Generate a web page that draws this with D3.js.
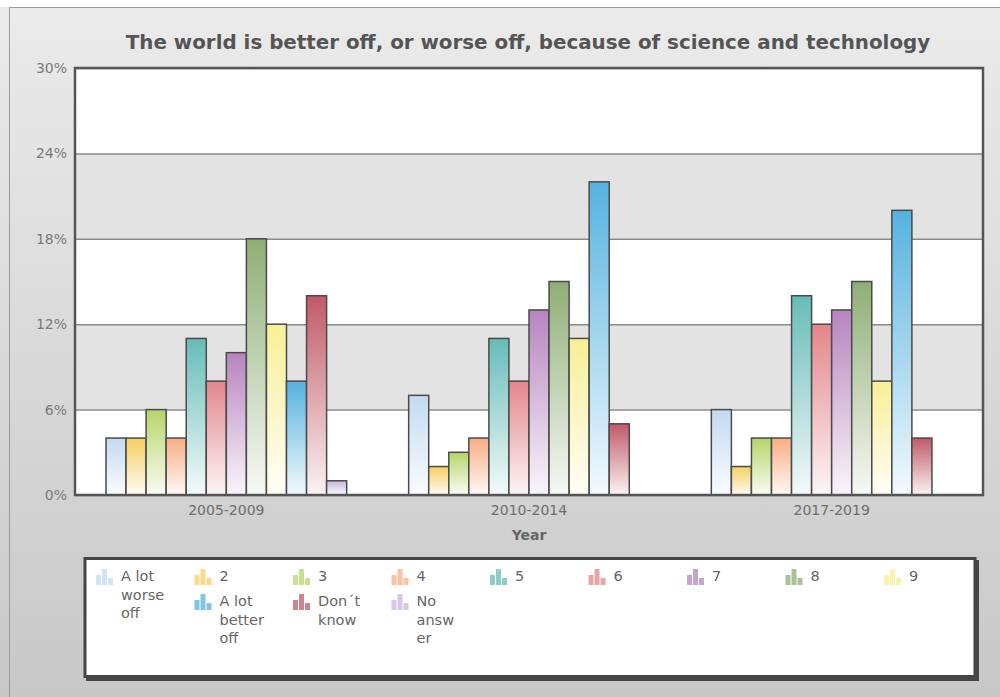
<!DOCTYPE html>
<html>
<head>
<meta charset="utf-8">
<script src="https://cdn.jsdelivr.net/npm/d3@7"></script>
<style>
  body { margin: 0; background: #fff; }
  svg { display: block; font-family: "DejaVu Sans", Verdana, sans-serif; }
</style>
</head>
<body>
<svg id="chart"></svg>
<script>
var years = ['2005-2009', '2010-2014', '2017-2019'];
var responses = ['A lot worse off', '2', '3', '4', '5', '6', '7', '8', '9',
  'A lot better off', 'Don´t know', 'No answer'];
var values2005 = [4, 4, 6, 4, 11, 8, 10, 18, 12, 8, 14, 1];
var values2010 = [7, 2, 3, 4, 11, 8, 13, 15, 11, 22, 5, 0];
var values2017 = [6, 2, 4, 4, 14, 12, 13, 15, 8, 20, 4, 0];
var yTicks = [0, 6, 12, 18, 24, 30];
var colors = ['#c3daf1', '#f5cf60', '#b5d66a', '#f8ae84', '#66bcb8', '#e3858b',
  '#b784bf', '#8fae76', '#f8ef96', '#56b2e0', '#c05a66', '#c8b6dc'];

document.addEventListener('DOMContentLoaded', () => {
  var W = 1000, H = 697;
  var plot = { left: 75, right: 983, top: 68, bottom: 495 };

  var svg = d3.select('#chart').attr('width', W).attr('height', H);
  var defs = svg.append('defs');

  var bg = defs.append('linearGradient').attr('id', 'bg')
    .attr('x1', 0).attr('y1', 0).attr('x2', 0).attr('y2', 1);
  bg.append('stop').attr('offset', '0%').attr('stop-color', '#ebebeb');
  bg.append('stop').attr('offset', '100%').attr('stop-color', '#c8c8c8');

  colors.forEach((c, i) => {
    var g = defs.append('linearGradient').attr('id', 'bar' + i)
      .attr('x1', 0).attr('y1', 0).attr('x2', 0).attr('y2', 1);
    g.append('stop').attr('offset', '0%').attr('stop-color', c);
    g.append('stop').attr('offset', '100%').attr('stop-color', d3.interpolateRgb(c, '#fff')(0.93));
  });

  // page frame
  svg.append('rect').attr('x', 0).attr('y', 7).attr('width', W).attr('height', H - 7)
    .attr('fill', 'url(#bg)');
  svg.append('rect').attr('x', 9.5).attr('y', 7.5).attr('width', W).attr('height', H)
    .attr('fill', 'none').attr('stroke', '#9a9a9a');

  var x0 = d3.scaleBand().domain(years).range([plot.left, plot.right]);
  var inset = 31;
  var x1 = d3.scaleBand().domain(responses).range([inset, x0.bandwidth() - inset]);
  var y = d3.scaleLinear().domain([0, 30]).range([plot.bottom, plot.top]);

  // background bands
  var chart = svg.append('g');
  chart.append('rect').attr('x', plot.left).attr('y', plot.top)
    .attr('width', plot.right - plot.left).attr('height', plot.bottom - plot.top).attr('fill', '#fff');
  chart.selectAll('.band')
    .data(d3.pairs(yTicks).filter((p, i) => i % 2 === 1))
    .enter().append('rect')
      .attr('x', plot.left).attr('width', plot.right - plot.left)
      .attr('y', d => y(d[1])).attr('height', d => y(d[0]) - y(d[1]))
      .attr('fill', '#e3e3e3');

  var yAxis = d3.axisLeft(y).tickValues(yTicks).tickSize(-(plot.right - plot.left))
    .tickFormat(d => d + '%').tickPadding(8);
  var ya = chart.append('g').attr('transform', `translate(${plot.left},0)`).call(yAxis);
  ya.select('.domain').remove();
  ya.selectAll('line').attr('stroke', '#8a8a8a').attr('stroke-width', 1.5);
  ya.selectAll('text').attr('fill', '#7a7a7a').style('font-size', '14px')
    .style('font-family', '"DejaVu Sans", sans-serif');

  var series = [values2005, values2010, values2017];
  var bars = [];
  series.forEach((vals, gi) => vals.forEach((v, ri) => {
    if (v > 0) bars.push({ year: years[gi], resp: responses[ri], idx: ri, value: v });
  }));

  chart.selectAll('.bar')
    .data(bars)
    .enter().append('rect')
      .attr('class', 'bar')
      .attr('x', d => x0(d.year) + x1(d.resp))
      .attr('y', d => y(d.value))
      .attr('width', x1.bandwidth())
      .attr('height', d => y(0) - y(d.value))
      .attr('fill', d => `url(#bar${d.idx})`)
      .attr('stroke', '#4a4a4a')
      .attr('stroke-width', 1.5);

  chart.append('rect').attr('x', plot.left).attr('y', plot.top)
    .attr('width', plot.right - plot.left).attr('height', plot.bottom - plot.top)
    .attr('fill', 'none').attr('stroke', '#555').attr('stroke-width', 2.5);

  var xAxis = d3.axisBottom(x0).tickSize(0).tickPadding(10);
  var xa = chart.append('g').attr('transform', `translate(0,${plot.bottom})`).call(xAxis);
  xa.select('.domain').remove();
  xa.selectAll('text').attr('fill', '#6e6e6e').style('font-size', '14px')
    .style('font-family', '"DejaVu Sans", sans-serif');

  svg.append('text').attr('x', (plot.left + plot.right) / 2).attr('y', 540)
    .attr('text-anchor', 'middle').attr('fill', '#666')
    .style('font-size', '14px').style('font-weight', 'bold').text('Year');

  var title = svg.append('text').attr('x', 528).attr('y', 49)
    .attr('text-anchor', 'middle').attr('fill', '#555')
    .style('font-size', '17px').style('font-weight', 'bold')
    .text('The world is better off, or worse off, because of science and technology');
  var tl = title.node().getComputedTextLength();
  title.style('font-size', (17 * 805 / tl) + 'px');

  // legend
  var lg = svg.append('g');
  lg.append('rect').attr('x', 86).attr('y', 560).attr('width', 893).attr('height', 121).attr('fill', '#474747');
  lg.append('rect').attr('x', 85).attr('y', 558.5).attr('width', 890).attr('height', 118)
    .attr('fill', '#fff').attr('stroke', '#454545').attr('stroke-width', 3);

  var colW = 98.5, legX = 96, rowY = [566, 591], lineH = 18.5, maxW = 46;
  var pos = responses.map((r, i) => i < 9 ? { col: i, row: 0 } : { col: i - 8, row: 1 });

  var item = lg.selectAll('.item').data(responses).enter().append('g')
    .attr('class', 'item')
    .attr('transform', (d, i) => `translate(${legX + pos[i].col * colW},${rowY[pos[i].row]})`);

  [[0, 7, 10], [6, 1, 16], [12, 10, 7]].forEach(b => {
    item.append('rect').attr('x', b[0]).attr('y', b[1] + 2).attr('width', 5).attr('height', b[2])
      .attr('fill', (d, i) => colors[i]).attr('opacity', 0.75);
  });

  item.each(function (d) {
    var t = d3.select(this).append('text').attr('x', 25).attr('y', 15)
      .attr('fill', '#666').style('font-size', '14.5px');
    var lines = [], cur = '';
    var measure = s => { t.text(s); return t.node().getComputedTextLength(); };
    d.split(' ').forEach(w => {
      var test = cur ? cur + ' ' + w : w;
      if (measure(test) <= maxW) { cur = test; return; }
      if (cur) lines.push(cur);
      cur = '';
      var part = '';
      for (var ch of w) {
        if (measure(part + ch) > maxW && part) { lines.push(part); part = ch; }
        else part += ch;
      }
      cur = part;
    });
    if (cur) lines.push(cur);
    t.text(null);
    lines.forEach((l, k) => t.append('tspan').attr('x', 25).attr('y', 15 + k * lineH).text(l));
  });
});
</script>
</body>
</html>
